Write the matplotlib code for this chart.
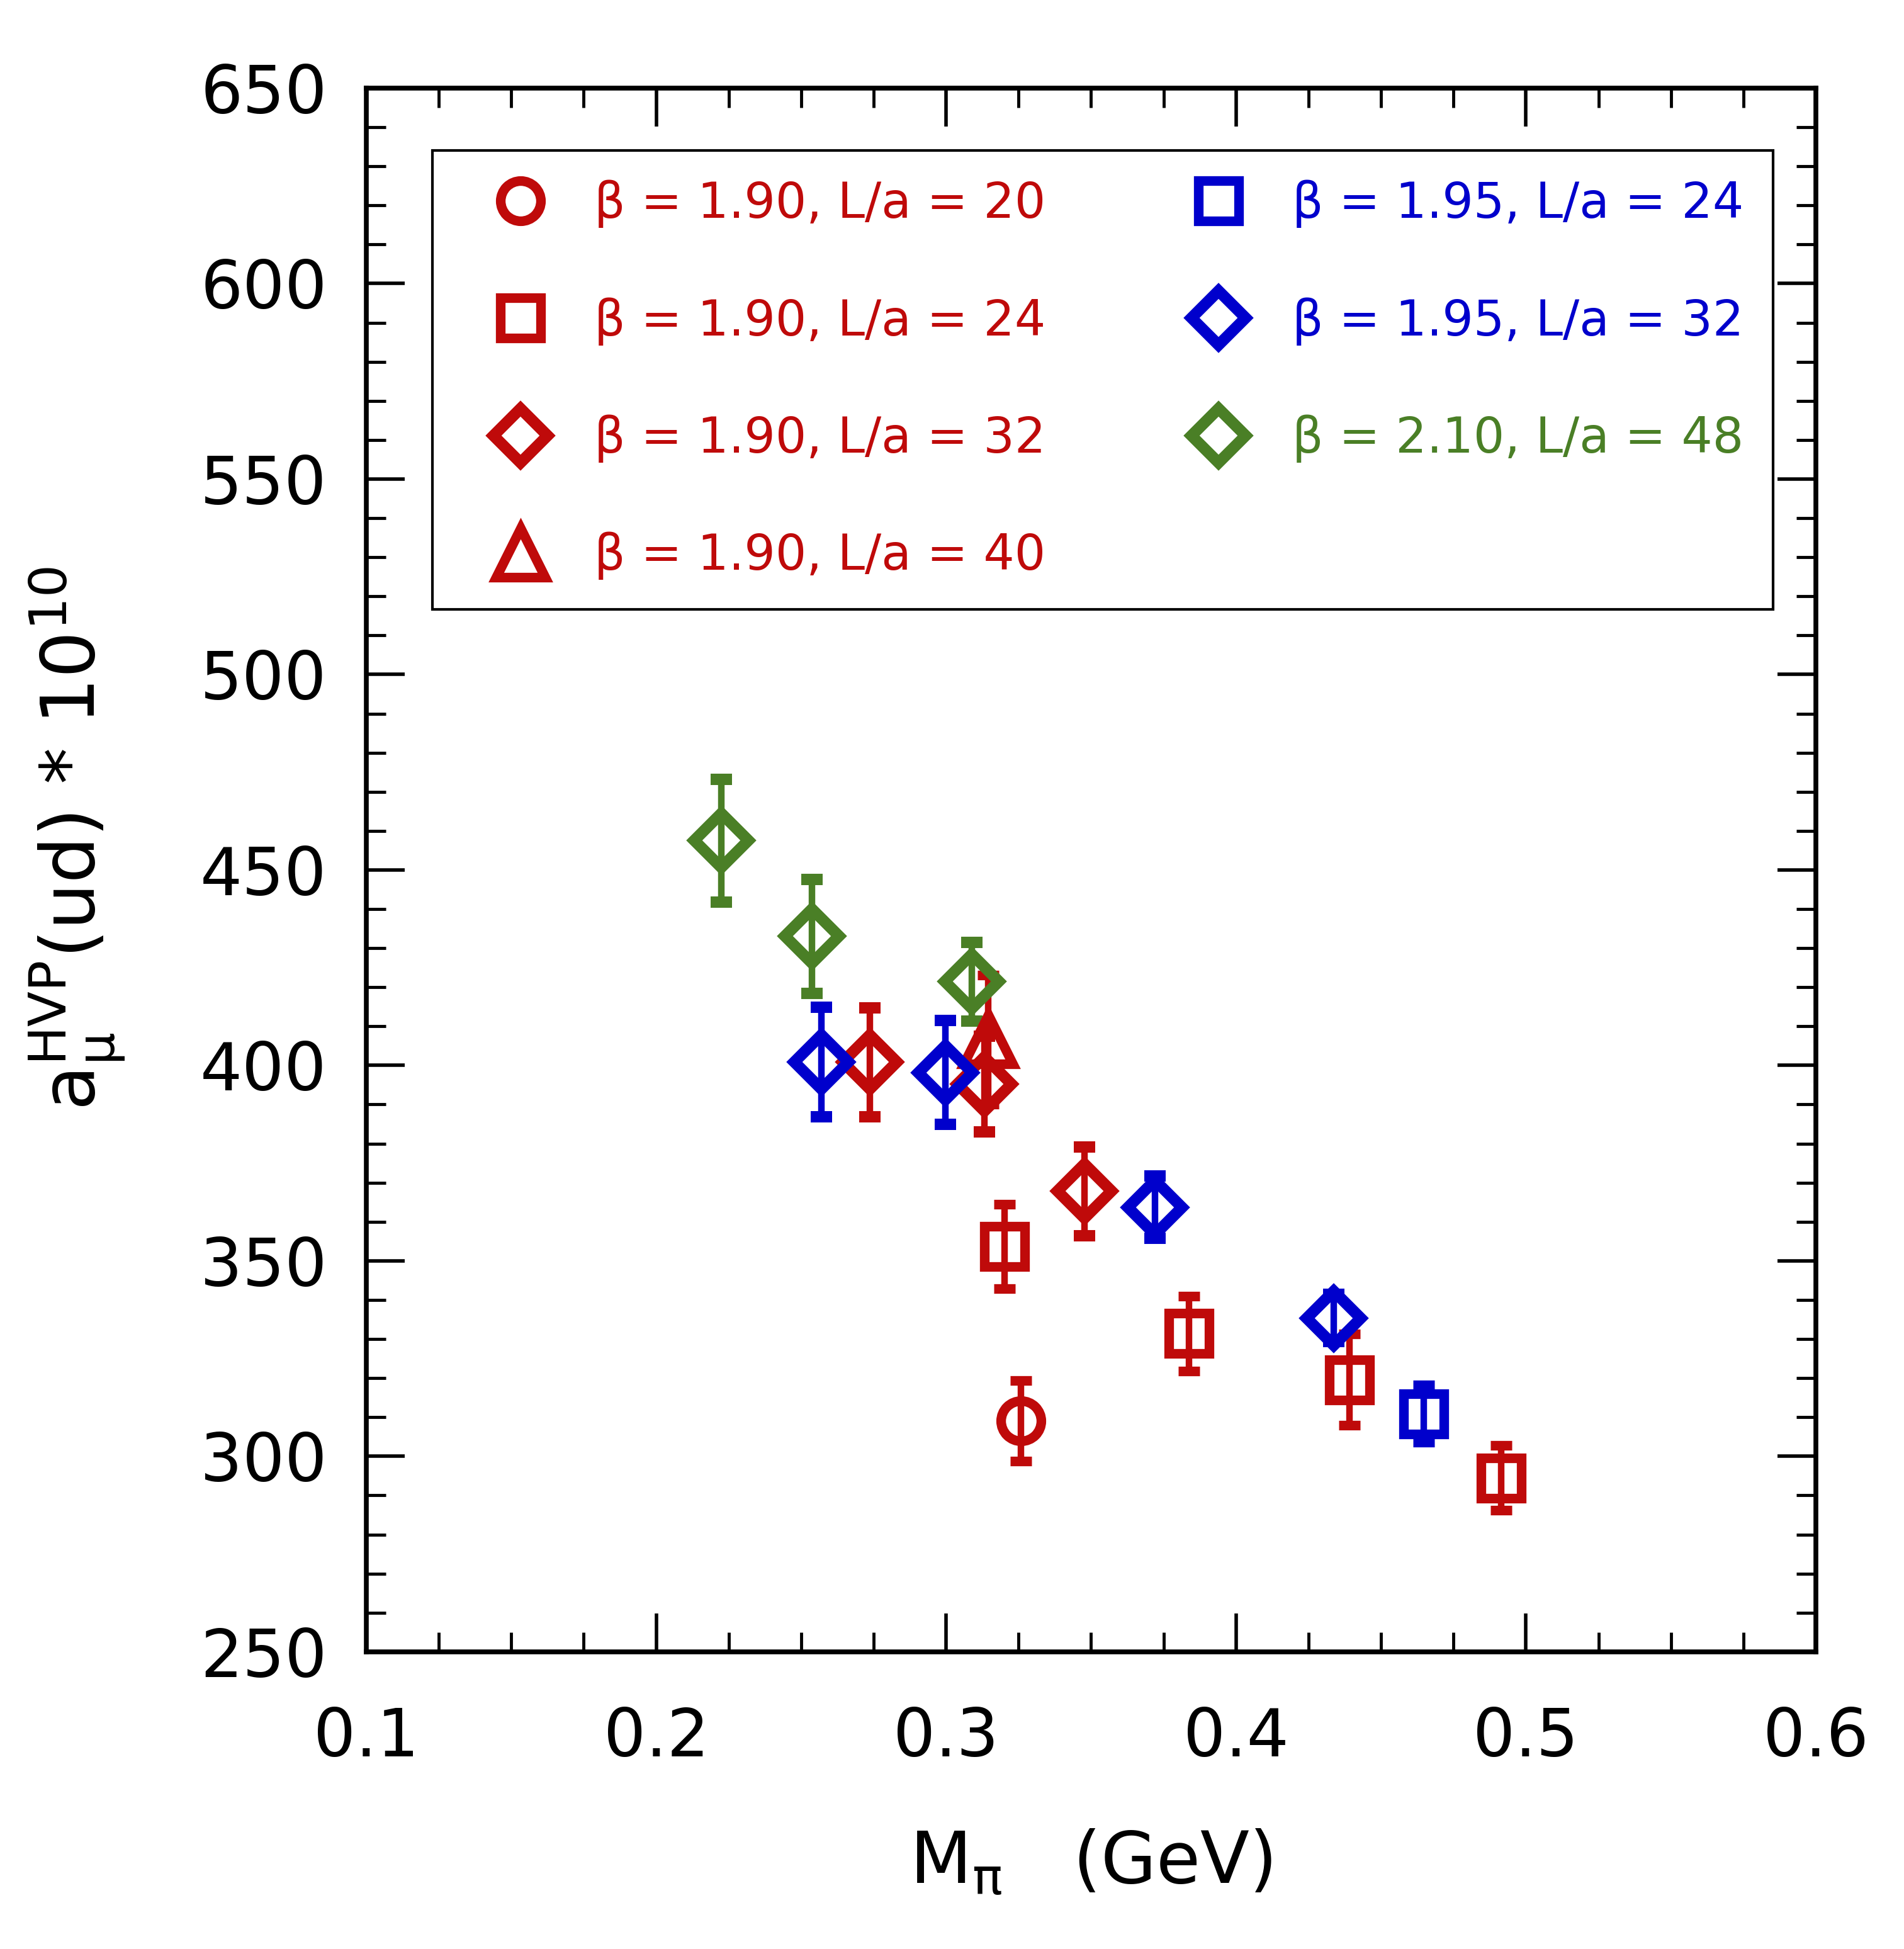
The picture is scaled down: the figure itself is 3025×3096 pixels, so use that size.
import numpy as np
import matplotlib
matplotlib.use("Agg")
import matplotlib.pyplot as plt
from matplotlib.ticker import MultipleLocator, FormatStrFormatter

plt.rcParams["font.family"] = ["DejaVu Sans"]
plt.rcParams["mathtext.default"] = "regular"

RED = "#BF0A0A"
BLUE = "#0000CC"
GREEN = "#4A7F26"

# beta = 1.90
b190_l20_x = [0.3257]
b190_l20_y = [309.1]
b190_l20_e = [10.3]

b190_l24_x = [0.3202, 0.3837, 0.4392, 0.4915]
b190_l24_y = [353.7, 331.4, 319.6, 294.5]
b190_l24_e = [10.8, 9.6, 11.7, 8.3]

b190_l32_x = [0.2737, 0.3131, 0.3477]
b190_l32_y = [400.8, 395.2, 367.8]
b190_l32_e = [13.9, 12.2, 11.3]

b190_l40_x = [0.3146]
b190_l40_y = [406.6]
b190_l40_e = [16.5]

# beta = 1.95
b195_l24_x = [0.4647]
b195_l24_y = [310.9]
b195_l24_e = [7.3]

b195_l32_x = [0.2570, 0.2998, 0.3720, 0.4336]
b195_l32_y = [400.8, 398.2, 363.7, 335.4]
b195_l32_e = [14.0, 13.3, 8.0, 6.0]

# beta = 2.10
b210_l48_x = [0.2225, 0.2537, 0.3089]
b210_l48_y = [457.5, 433.0, 421.4]
b210_l48_e = [15.7, 14.5, 10.0]

labels = ["\u03b2 = 1.90, L/a = 20", "\u03b2 = 1.90, L/a = 24",
          "\u03b2 = 1.90, L/a = 32", "\u03b2 = 1.90, L/a = 40",
          "\u03b2 = 1.95, L/a = 24", "\u03b2 = 1.95, L/a = 32",
          "\u03b2 = 2.10, L/a = 48"]

series = [
    (b190_l20_x, b190_l20_y, b190_l20_e, "o", 46, 11, RED),
    (b190_l24_x, b190_l24_y, b190_l24_e, "s", 46, 11, RED),
    (b190_l32_x, b190_l32_y, b190_l32_e, "D", 44, 13, RED),
    (b190_l40_x, b190_l40_y, b190_l40_e, "^", 56, 11, RED),
    (b195_l24_x, b195_l24_y, b195_l24_e, "s", 46, 11, BLUE),
    (b195_l32_x, b195_l32_y, b195_l32_e, "D", 44, 13, BLUE),
    (b210_l48_x, b210_l48_y, b210_l48_e, "D", 44, 13, GREEN),
]

fig = plt.figure(figsize=(30.25, 30.96), dpi=100)
ax = fig.add_axes([0.1924, 0.1525, 0.7613, 0.8023])

handles = []
for (x, y, e, m, ms, mew, c), lab in zip(series, labels):
    cont = ax.errorbar(x, y, yerr=e, fmt=m, ms=ms, mfc="none", mec=c, mew=mew,
                       ecolor=c, elinewidth=7.5, capsize=12, capthick=8)
    cont[0].set_label(lab)
    handles.append(cont[0])

ax.set_xlim(0.1, 0.6)
ax.set_ylim(250, 650)
ax.xaxis.set_major_locator(MultipleLocator(0.1))
ax.xaxis.set_minor_locator(MultipleLocator(0.025))
ax.yaxis.set_major_locator(MultipleLocator(50))
ax.yaxis.set_minor_locator(MultipleLocator(10))
ax.xaxis.set_major_formatter(FormatStrFormatter("%.1f"))

ax.tick_params(which="both", direction="in", top=True, right=True, labelsize=76)
ax.tick_params(which="major", length=44, width=4)
ax.tick_params(which="minor", length=22, width=3.5)
ax.tick_params(axis="x", pad=62)
ax.tick_params(axis="y", pad=45)
for s in ax.spines.values():
    s.set_linewidth(5.5)

ax.set_xlabel("M$_\\pi$   (GeV)", fontsize=82)
ax.set_ylabel("a$_\\mu^{HVP}$(ud) * 10$^{10}$", fontsize=84)
ax.xaxis.set_label_coords(0.5, -0.113)
ax.yaxis.set_label_coords(-0.165, 0.52)

leg = ax.legend(handles=handles, labels=labels, ncol=2, loc="upper left",
                bbox_to_anchor=(0.0456, 0.960), borderaxespad=0,
                fontsize=56, borderpad=0.6, handlelength=2.39,
                handletextpad=0.31, labelspacing=1.41, columnspacing=2.34,
                labelcolor="markeredgecolor", fancybox=False, framealpha=1)
leg.get_frame().set_edgecolor("black")
leg.get_frame().set_linewidth(3)

fig.savefig("out.png", dpi=100)
